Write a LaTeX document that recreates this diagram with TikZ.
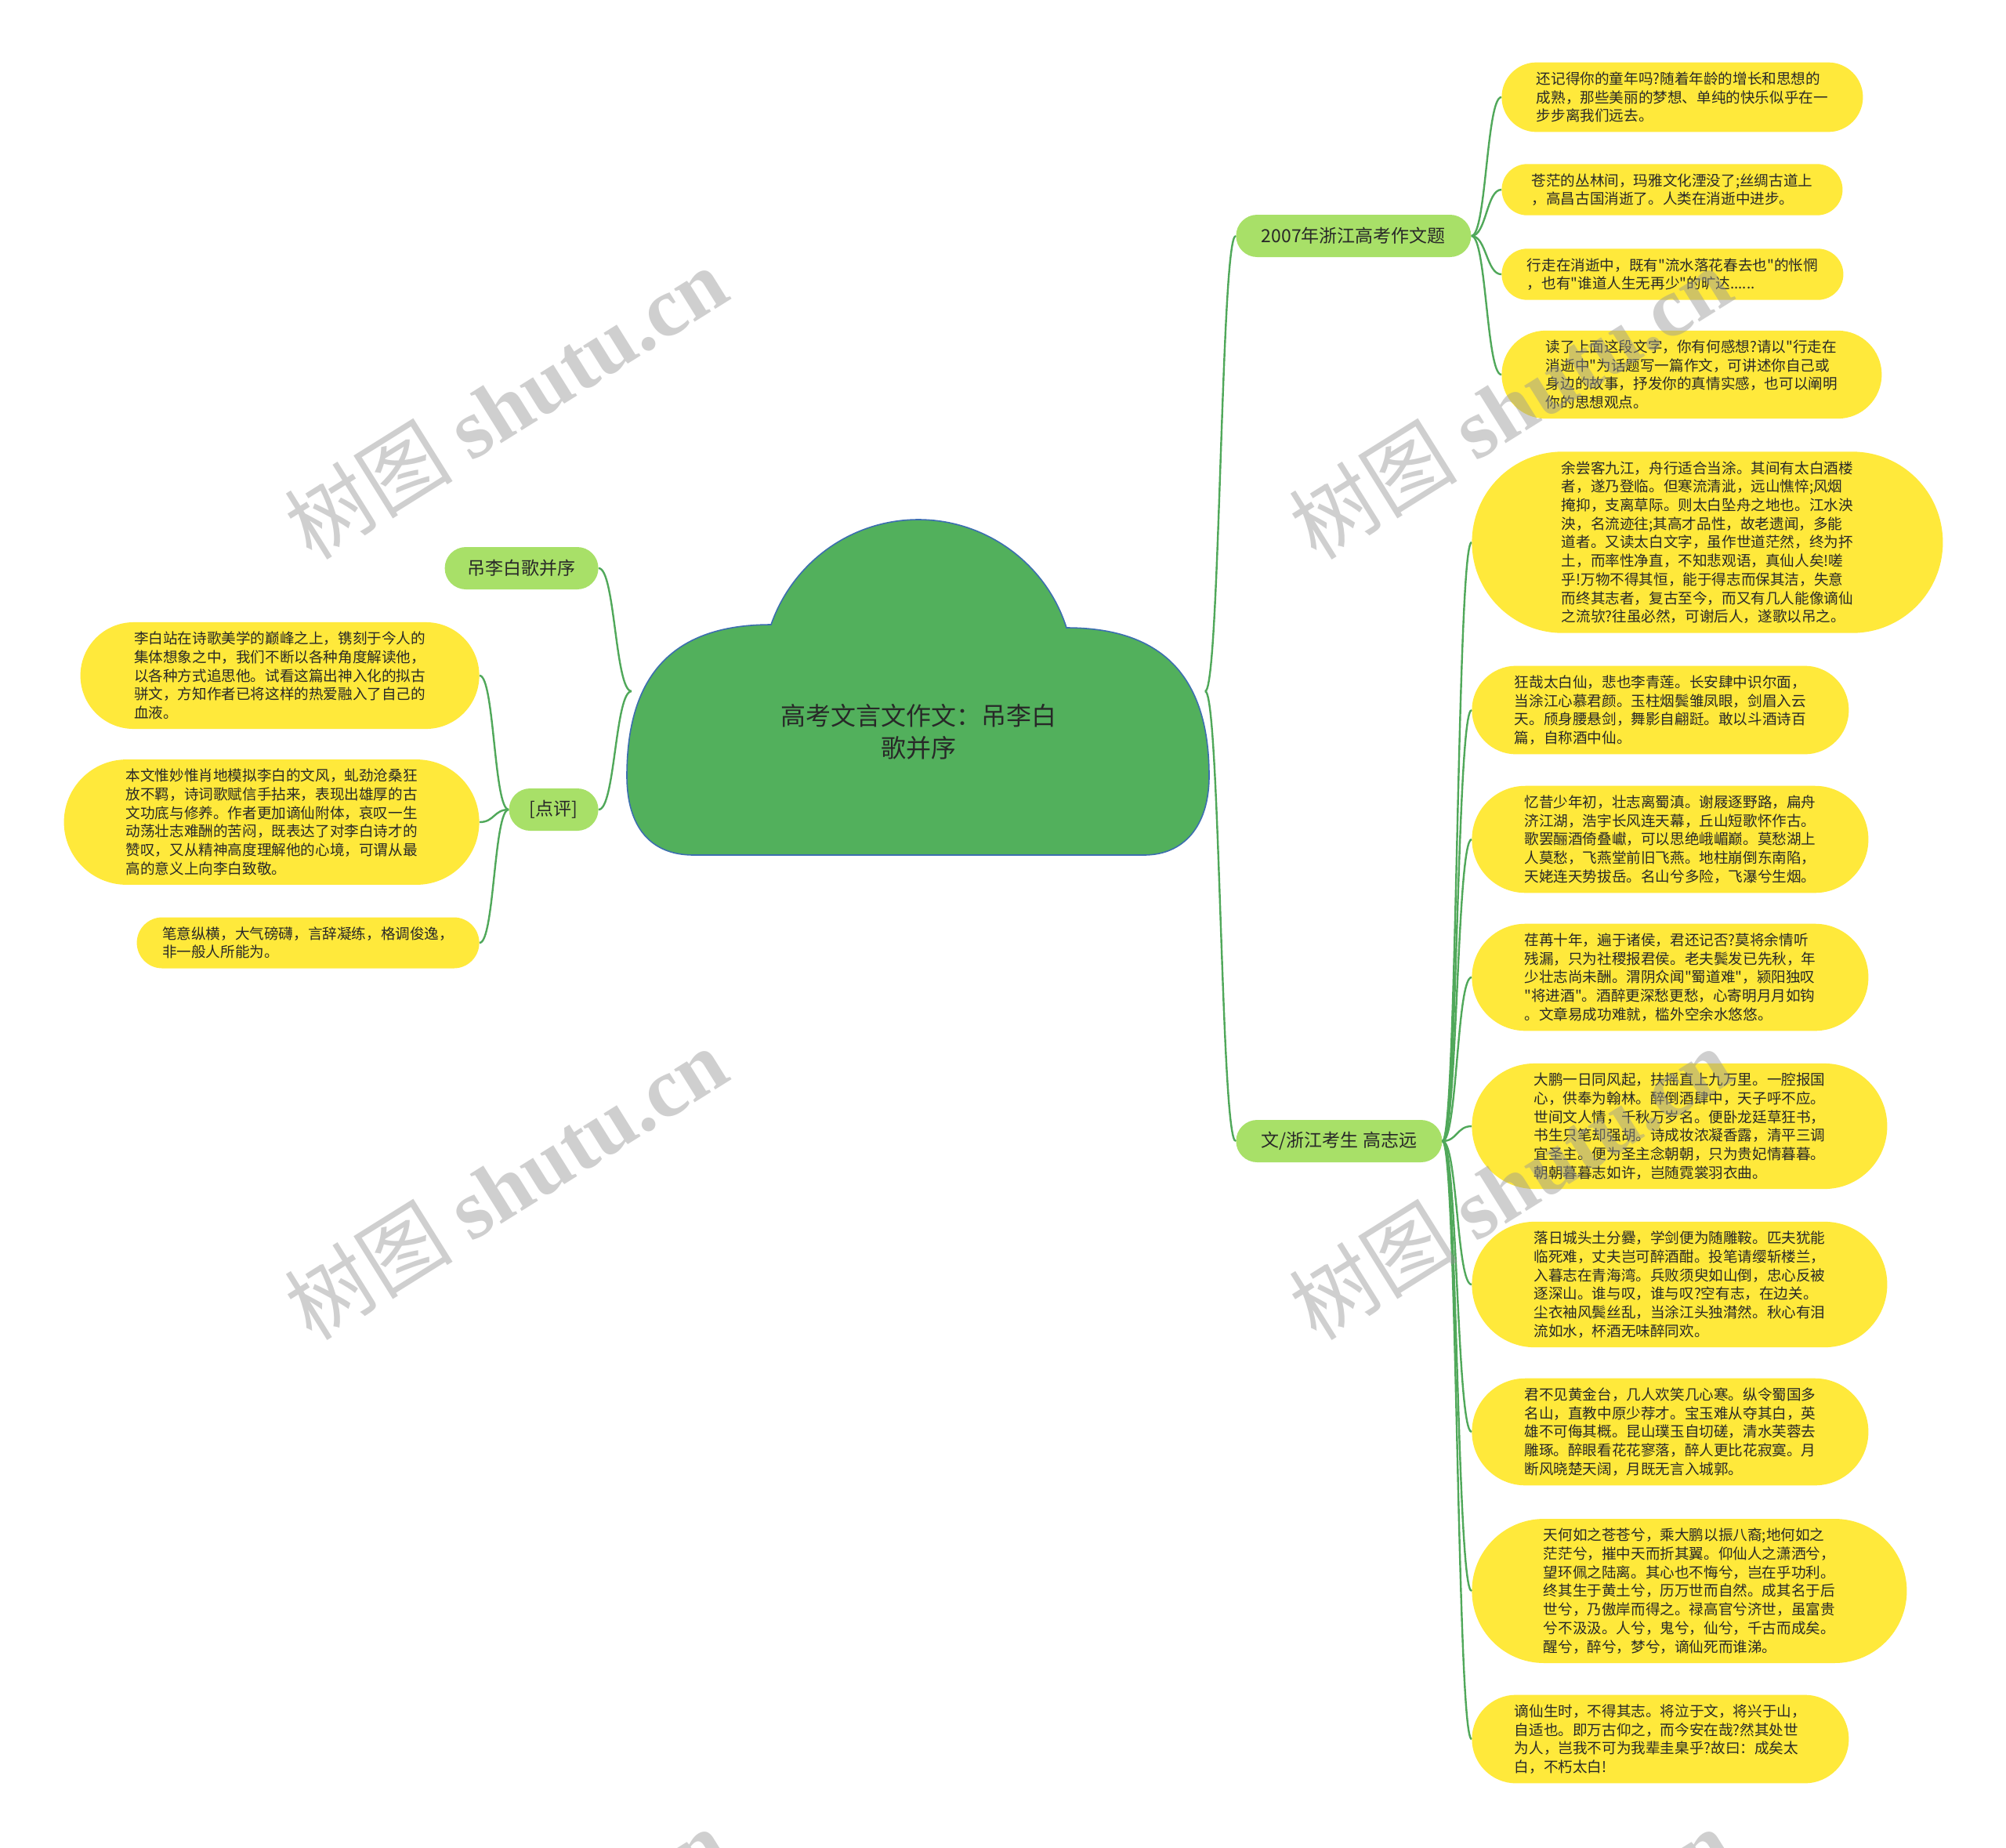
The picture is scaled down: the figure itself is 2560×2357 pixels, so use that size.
\documentclass[tikz,border=0pt]{standalone}
\usepackage{fontspec}
\setmainfont{Noto Sans CJK SC}[Ligatures=TeXOff]
\newfontfamily\wmlat{Liberation Serif}
\usetikzlibrary{shapes.misc}
\definecolor{leafY}{RGB}{255,233,59}
\definecolor{brG}{RGB}{168,224,104}
\definecolor{linkG}{RGB}{80,168,90}
\definecolor{cloudG}{RGB}{82,176,92}
\definecolor{cloudB}{RGB}{60,110,175}
\definecolor{txt}{RGB}{40,40,40}
\definecolor{wmc}{RGB}{150,150,150}
\begin{document}
\begin{tikzpicture}[x=0.5pt,y=-0.5pt,
  leaf/.style={shape=rounded rectangle, fill=leafY, inner xsep=0pt, inner ysep=6pt,
    align=left, text=txt, font=\fontsize{9.3}{11.85}\selectfont},
  branch/.style={shape=rounded rectangle, fill=brG, inner xsep=0pt, minimum height=27pt,
    text=txt, font=\fontsize{11.5}{14}\selectfont},
  link/.style={draw=linkG, line width=1.2pt},
  wm/.style={text=wmc, text opacity=0.45, rotate=32, inner sep=0pt,
    font=\fontsize{54}{60}\selectfont}
]
\useasboundingbox (0,0) rectangle (2560,2357);
\fill[white] (0,0) rectangle (2560,2357);

% cloud
\draw[fill=cloudG, draw=cloudB, line width=0.8pt]
  (984,797) .. controls (1012,717) and (1087,663) .. (1172,663)
  .. controls (1258,663) and (1335,719) .. (1361,801)
  .. controls (1480,801) and (1543,860) .. (1543,990)
  .. controls (1543,1055) and (1510,1091) .. (1460,1091)
  -- (885,1091)
  .. controls (830,1091) and (800,1055) .. (800,990)
  .. controls (800,860) and (860,797) .. (984,797) -- cycle;
\node[align=center, text=txt, font=\fontsize{16}{20.4}\selectfont] (root) at (1172,934)
  {高考文言文作文：吊李白\\歌并序};
\coordinate (cR) at (1538,882);
\coordinate (cL) at (806,882);

% branches
\node[branch, anchor=west, minimum width=150pt] (bA) at (1577,301) {2007年浙江高考作文题};
\node[branch, anchor=west, minimum width=131.5pt] (bB) at (1577,1456) {文/浙江考生 高志远};
\node[branch, anchor=east, minimum width=98pt] (bC) at (764,725) {吊李白歌并序};
\node[branch, anchor=east, minimum width=57pt] (bD) at (764,1033) {[点评]};

% right group A
\node[leaf, anchor=west, minimum width=230.5pt] (a1) at (1916,124) {还记得你的童年吗?随着年龄的增长和思想的\\成熟，那些美丽的梦想、单纯的快乐似乎在一\\步步离我们远去。};
\node[leaf, anchor=west, minimum width=217.5pt] (a2) at (1916,242) {苍茫的丛林间，玛雅文化湮没了;丝绸古道上\\，高昌古国消逝了。人类在消逝中进步。};
\node[leaf, anchor=west, minimum width=218pt] (a3) at (1916,350) {行走在消逝中，既有"流水落花春去也"的怅惘\\，也有"谁道人生无再少"的旷达......};
\node[leaf, anchor=west, minimum width=242.5pt] (a4) at (1916,478) {读了上面这段文字，你有何感想?请以"行走在\\消逝中"为话题写一篇作文，可讲述你自己或\\身边的故事，抒发你的真情实感，也可以阐明\\你的思想观点。};

% right group B
\node[leaf, anchor=west, minimum width=300.5pt] (b1) at (1878,692) {余尝客九江，舟行适合当涂。其间有太白酒楼\\者，遂乃登临。但寒流清泚，远山憔悴;风烟\\掩抑，支离草际。则太白坠舟之地也。江水泱\\泱，名流迹往;其高才品性，故老遗闻，多能\\道者。又读太白文字，虽作世道茫然，终为抔\\土，而率性净直，不知悲观语，真仙人矣!嗟\\乎!万物不得其恒，能于得志而保其洁，失意\\而终其志者，复古至今，而又有几人能像谪仙\\之流欤?往虽必然，可谢后人，遂歌以吊之。};
\node[leaf, anchor=west, minimum width=240.5pt] (b2) at (1878,906) {狂哉太白仙，悲也李青莲。长安肆中识尔面，\\当涂江心慕君颜。玉柱烟鬓雏凤眼，剑眉入云\\天。颀身腰悬剑，舞影自翩跹。敢以斗酒诗百\\篇，自称酒中仙。};
\node[leaf, anchor=west, minimum width=253pt] (b3) at (1878,1071) {忆昔少年初，壮志离蜀滇。谢屐逐野路，扁舟\\济江湖，浩宇长风连天幕，丘山短歌怀作古。\\歌罢酾酒倚叠巘，可以思绝峨嵋巅。莫愁湖上\\人莫愁，飞燕堂前旧飞燕。地柱崩倒东南陷，\\天姥连天势拔岳。名山兮多险，飞瀑兮生烟。};
\node[leaf, anchor=west, minimum width=253pt] (b4) at (1878,1247) {荏苒十年，遍于诸侯，君还记否?莫将余情听\\残漏，只为社稷报君侯。老夫鬓发已先秋，年\\少壮志尚未酬。渭阴众闻"蜀道难"，颍阳独叹\\"将进酒"。酒醉更深愁更愁，心寄明月月如钩\\。文章易成功难就，槛外空余水悠悠。};
\node[leaf, anchor=west, minimum width=265pt] (b5) at (1878,1437) {大鹏一日同风起，扶摇直上九万里。一腔报国\\心，供奉为翰林。醉倒酒肆中，天子呼不应。\\世间文人情，千秋万岁名。便卧龙廷草狂书，\\书生只笔却强胡。诗成妆浓凝香露，清平三调\\宜圣主。便为圣主念朝朝，只为贵妃情暮暮。\\朝朝暮暮志如许，岂随霓裳羽衣曲。};
\node[leaf, anchor=west, minimum width=265pt] (b6) at (1878,1639) {落日城头土分爨，学剑便为随雕鞍。匹夫犹能\\临死难，丈夫岂可醉酒酣。投笔请缨斩楼兰，\\入暮志在青海湾。兵败须臾如山倒，忠心反被\\逐深山。谁与叹，谁与叹?空有志，在边关。\\尘衣袖风鬓丝乱，当涂江头独潸然。秋心有泪\\流如水，杯酒无味醉同欢。};
\node[leaf, anchor=west, minimum width=253pt] (b7) at (1878,1827) {君不见黄金台，几人欢笑几心寒。纵令蜀国多\\名山，直教中原少荐才。宝玉难从夺其白，英\\雄不可侮其概。昆山璞玉自切磋，清水芙蓉去\\雕琢。醉眼看花花寥落，醉人更比花寂寞。月\\断风晓楚天阔，月既无言入城郭。};
\node[leaf, anchor=west, minimum width=277.5pt] (b8) at (1878,2030) {天何如之苍苍兮，乘大鹏以振八裔;地何如之\\茫茫兮，摧中天而折其翼。仰仙人之潇洒兮，\\望环佩之陆离。其心也不悔兮，岂在乎功利。\\终其生于黄土兮，历万世而自然。成其名于后\\世兮，乃傲岸而得之。禄高官兮济世，虽富贵\\兮不汲汲。人兮，鬼兮，仙兮，千古而成矣。\\醒兮，醉兮，梦兮，谪仙死而谁涕。};
\node[leaf, anchor=west, minimum width=240.5pt] (b9) at (1878,2219) {谪仙生时，不得其志。将泣于文，将兴于山，\\自适也。即万古仰之，而今安在哉?然其处世\\为人，岂我不可为我辈圭臬乎?故曰：成矣太\\白，不朽太白!};

% left group
\node[leaf, anchor=east, minimum width=254.5pt] (l1) at (612,862) {李白站在诗歌美学的巅峰之上，镌刻于今人的\\集体想象之中，我们不断以各种角度解读他，\\以各种方式追思他。试看这篇出神入化的拟古\\骈文，方知作者已将这样的热爱融入了自己的\\血液。};
\node[leaf, anchor=east, minimum width=265pt] (l2) at (612,1049) {本文惟妙惟肖地模拟李白的文风，虬劲沧桑狂\\放不羁，诗词歌赋信手拈来，表现出雄厚的古\\文功底与修养。作者更加谪仙附体，哀叹一生\\动荡壮志难酬的苦闷，既表达了对李白诗才的\\赞叹，又从精神高度理解他的心境，可谓从最\\高的意义上向李白致敬。};
\node[leaf, anchor=east, minimum width=218.5pt] (l3) at (612,1203) {笔意纵横，大气磅礴，言辞凝练，格调俊逸，\\非一般人所能为。};

% connectors
\draw[link] (cR) .. controls +(19,0) and +(-19,0) .. (bA.west);
\draw[link] (cR) .. controls +(19,0) and +(-19,0) .. (bB.west);
\draw[link] (cL) .. controls +(-21,0) and +(21,0) .. (bC.east);
\draw[link] (cL) .. controls +(-21,0) and +(21,0) .. (bD.east);
\foreach \n in {a1,a2,a3,a4}
  \draw[link] (bA.east) .. controls +(19,0) and +(-19,0) .. (\n.west);
\foreach \n in {b1,b2,b3,b4,b5,b6,b7,b8,b9}
  \draw[link] (bB.east) .. controls +(19,0) and +(-19,0) .. (\n.west);
\foreach \n in {l1,l2,l3}
  \draw[link] (bD.west) .. controls +(-19,0) and +(19,0) .. (\n.east);

% watermarks
\begin{scope}
\clip (0,0) rectangle (2560,2357);
\foreach \wx/\wy/\k in {645/514/1,1927/514/2,645/1510/3,1927/1510/4,645/2506/5,1927/2506/6}
  \node[wm] (wm\k) at (\wx,\wy) {树图 {\wmlat\bfseries shutu.cn}};
\end{scope}
\end{tikzpicture}
\end{document}
